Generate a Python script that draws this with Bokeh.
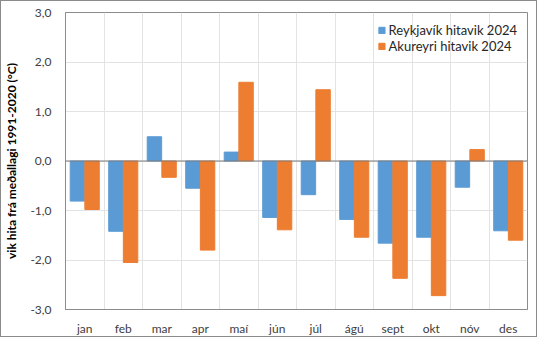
from bokeh.plotting import figure
from bokeh.models import ColumnDataSource, FixedTicker, Range1d, Span, Legend, LegendItem
from bokeh.transform import dodge
from bokeh.embed import file_html
from bokeh.resources import INLINE

months = ["jan", "feb", "mar", "apr", "maí", "jún", "júl", "ágú", "sept", "okt", "nóv", "des"]
reykjavik = [-0.81, -1.42, 0.49, -0.55, 0.18, -1.14, -0.68, -1.18, -1.66, -1.54, -0.53, -1.41]
akureyri = [-0.98, -2.05, -0.33, -1.80, 1.59, -1.39, 1.44, -1.54, -2.37, -2.72, 0.23, -1.60]
y_ticks = [-3, -2, -1, 0, 1, 2, 3]
y_tick_labels = ["-3,0", "-2,0", "-1,0", "0,0", "1,0", "2,0", "3,0"]
series_names = ["Reykjavík hitavik 2024", "Akureyri hitavik 2024"]

FONT = "Lato"
BLUE = "#5B9BD5"
ORANGE = "#ED7D31"

xpos = [i + 0.5 for i in range(len(months))]
src = ColumnDataSource(dict(x=xpos, rvk=reykjavik, aku=akureyri))

p = figure(width=537, height=337, output_backend="svg", toolbar_location=None,
           x_range=Range1d(0, 12), y_range=Range1d(-3, 3),
           min_border_left=63, min_border_right=11, min_border_top=11, min_border_bottom=28)
p.styles = {"border": "1px solid #8a8a8a"}

r1 = p.vbar(x=dodge("x", -0.19, range=p.x_range), top="rvk", bottom=0, width=0.375,
            source=src, fill_color=BLUE, line_color=BLUE)
r2 = p.vbar(x=dodge("x", 0.19, range=p.x_range), top="aku", bottom=0, width=0.375,
            source=src, fill_color=ORANGE, line_color=ORANGE)

p.add_layout(Span(location=0, dimension="width", line_color="#7a7a7a", line_width=1))

# axes
p.xaxis.ticker = FixedTicker(ticks=xpos)
p.xaxis.major_label_overrides = {x: m for x, m in zip(xpos, months)}
p.xaxis.major_tick_line_color = None
p.xaxis.minor_tick_line_color = None
p.xaxis.axis_line_color = "#8c8c8c"
p.xaxis.major_label_text_font = FONT
p.xaxis.major_label_text_font_size = "12px"
p.xaxis.major_label_text_color = "#404040"
p.xaxis.major_label_standoff = 5

p.yaxis.ticker = FixedTicker(ticks=y_ticks)
p.yaxis.major_label_overrides = {t: l for t, l in zip(y_ticks, y_tick_labels)}
p.yaxis.major_tick_line_color = None
p.yaxis.minor_tick_line_color = None
p.yaxis.axis_line_color = "#8c8c8c"
p.yaxis.major_label_text_font = FONT
p.yaxis.major_label_text_font_size = "12px"
p.yaxis.major_label_text_color = "#404040"
p.yaxis.major_label_standoff = 8
p.yaxis.axis_label = "vik hita frá meðallagi 1991-2020 (°C)"
p.yaxis.axis_label_text_font = FONT
p.yaxis.axis_label_text_font_style = "bold"
p.yaxis.axis_label_text_font_size = "12px"
p.yaxis.axis_label_text_color = "#000000"
p.yaxis.axis_label_standoff = 8

# grids
p.xgrid.ticker = FixedTicker(ticks=list(range(1, 12)))
p.xgrid.grid_line_color = "#e3e3e3"
p.ygrid.ticker = FixedTicker(ticks=y_ticks)
p.ygrid.grid_line_color = "#e3e3e3"

p.outline_line_color = "#8c8c8c"
p.outline_line_width = 1

legend = Legend(items=[LegendItem(label=series_names[0], renderers=[r1]),
                       LegendItem(label=series_names[1], renderers=[r2])],
                location="top_right")
legend.background_fill_alpha = 0
legend.border_line_color = None
legend.label_text_font = FONT
legend.label_text_font_size = "13px"
legend.label_text_color = "#262626"
legend.glyph_width = 8
legend.glyph_height = 8
legend.label_standoff = 3
legend.spacing = 0
legend.label_height = 16
legend.margin = 10
legend.padding = 3
p.add_layout(legend)

open("out.html", "w").write(file_html(p, INLINE))
